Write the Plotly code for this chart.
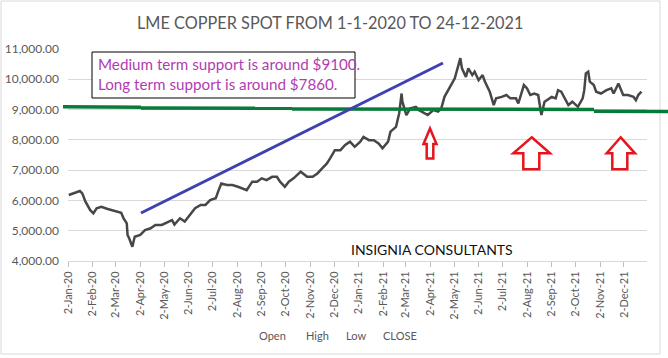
import plotly.graph_objects as go

# ---- data ----
dates = [
    "2020-01-03", "2020-01-10", "2020-01-17", "2020-01-20", "2020-01-24", "2020-01-30",
    "2020-02-03", "2020-02-07", "2020-02-13", "2020-02-21", "2020-02-28",
    "2020-03-05", "2020-03-09", "2020-03-12", "2020-03-16", "2020-03-17", "2020-03-19", "2020-03-23", "2020-03-26",
    "2020-04-02", "2020-04-08", "2020-04-15", "2020-04-21", "2020-04-29",
    "2020-05-08", "2020-05-12", "2020-05-15", "2020-05-22", "2020-05-28",
    "2020-06-04", "2020-06-10", "2020-06-17", "2020-06-23", "2020-06-29",
    "2020-07-06", "2020-07-09", "2020-07-13", "2020-07-20", "2020-07-27",
    "2020-08-03", "2020-08-07", "2020-08-14", "2020-08-21", "2020-08-27",
    "2020-09-02", "2020-09-08", "2020-09-15", "2020-09-21", "2020-09-25",
    "2020-10-01", "2020-10-06", "2020-10-12", "2020-10-21", "2020-10-29",
    "2020-11-05", "2020-11-11", "2020-11-17", "2020-11-23", "2020-11-27",
    "2020-12-03", "2020-12-10", "2020-12-16", "2020-12-22", "2020-12-28",
    "2021-01-04", "2021-01-08", "2021-01-15", "2021-01-21", "2021-01-27",
    "2021-02-01", "2021-02-08", "2021-02-11", "2021-02-18", "2021-02-22", "2021-02-24", "2021-02-25", "2021-02-26",
    "2021-03-03", "2021-03-08", "2021-03-15", "2021-03-19", "2021-03-25", "2021-03-30",
    "2021-04-06", "2021-04-12", "2021-04-16", "2021-04-20", "2021-04-27",
    "2021-05-03", "2021-05-10", "2021-05-12", "2021-05-17", "2021-05-20", "2021-05-25", "2021-05-28",
    "2021-06-02", "2021-06-07", "2021-06-10", "2021-06-16", "2021-06-21", "2021-06-24",
    "2021-07-01", "2021-07-07", "2021-07-12", "2021-07-19", "2021-07-22", "2021-07-26", "2021-07-29",
    "2021-08-02", "2021-08-06", "2021-08-11", "2021-08-16", "2021-08-18", "2021-08-20", "2021-08-24", "2021-08-31",
    "2021-09-02", "2021-09-07", "2021-09-10", "2021-09-14", "2021-09-20", "2021-09-23", "2021-09-28",
    "2021-10-01", "2021-10-05", "2021-10-11", "2021-10-13", "2021-10-15", "2021-10-18", "2021-10-20", "2021-10-25", "2021-10-28",
    "2021-11-03", "2021-11-10", "2021-11-16", "2021-11-19", "2021-11-25",
    "2021-12-01", "2021-12-07", "2021-12-14", "2021-12-17", "2021-12-20", "2021-12-24",
]
close = [
    6178, 6234, 6310, 6234, 5960, 5680,
    5574, 5740, 5790, 5716, 5660,
    5630, 5594, 5410, 5244, 4858, 4750, 4470, 4800,
    4860, 5020, 5080, 5190, 5190,
    5300, 5350, 5200, 5410, 5300,
    5520, 5740, 5850, 5850, 6010,
    6070, 6290, 6560, 6510, 6510,
    6450, 6400, 6340, 6620, 6620,
    6730, 6670, 6780, 6780, 6620,
    6450, 6620, 6730, 6950, 6780,
    6780, 6890, 7060, 7220, 7390,
    7660, 7660, 7830, 7940, 7770,
    7940, 8100, 7990, 7990, 7880,
    7720, 7940, 8270, 8430, 8880, 9310, 9530, 9260,
    8820, 9040, 9090, 8980, 8880, 8820,
    8980, 8930, 9040, 9420, 9750,
    10030, 10700, 10360, 10080, 10360, 10140, 10250,
    9970, 10140, 9920, 9590, 9150, 9370,
    9420, 9480, 9370, 9370, 9200, 9530, 9810,
    9700, 9480, 9530, 9480, 9150, 8820, 9260, 9370,
    9420, 9370, 9640, 9590, 9310, 9150, 9260,
    9200, 9090, 9370, 9640, 10190, 10250, 9920, 9810, 9590,
    9530, 9640, 9700, 9530, 9860,
    9480, 9480, 9420, 9310, 9480, 9590,
]
tick_dates = [f"{y}-{m:02d}-02" for y in (2020, 2021) for m in range(1, 13)]
y_ticks = [4000, 5000, 6000, 7000, 8000, 9000, 10000, 11000]
legend_names = ["Open", "High", "Low", "CLOSE"]

W, H = 668, 358
L, R, T, B = 68, 21, 49, 97
PW, PH = W - L - R, H - T - B


def px(x):
    return (x - L) / PW


def py(y):
    return (H - B - y) / PH


GRAY = "#595959"
FONT = "Lato"

fig = go.Figure()
fig.add_trace(go.Scatter(
    x=dates, y=close, mode="lines", name="CLOSE",
    line=dict(color="#474747", width=2.5), showlegend=False,
))

shapes = []
# chart area border
shapes.append(dict(type="rect", xref="paper", yref="paper",
                   x0=px(1), x1=px(660), y0=py(1), y1=py(354),
                   line=dict(color="#d9d9d9", width=1), layer="below"))
# green support line (drawn segments)
green_pts = [((63, 106.8), (141, 107.3)), ((141, 108), (292, 108.3)),
             ((292, 109), (594, 109.4)), ((594, 111.2), (668, 111.4))]
for (a, b) in green_pts:
    shapes.append(dict(type="line", xref="paper", yref="paper",
                       x0=px(a[0]), y0=py(a[1]), x1=px(b[0]), y1=py(b[1]),
                       line=dict(color="#0a7a3a", width=3.5)))
# blue trend line
shapes.append(dict(type="line", xref="paper", yref="paper",
                   x0=px(141), y0=py(213), x1=px(443), y1=py(63),
                   line=dict(color="#4040b4", width=3)))
# text box
shapes.append(dict(type="rect", xref="paper", yref="paper",
                   x0=px(92), x1=px(355), y0=py(52), y1=py(98),
                   line=dict(color="black", width=1), fillcolor="white"))


def arrow(tx, ty, hl, hr, hb, sl, sr, yb):
    pts = [(tx, ty), (hr, hb), (sr, hb), (sr, yb), (sl, yb), (sl, hb), (hl, hb)]
    p = "M " + " L ".join(f"{px(a):.5f},{py(b):.5f}" for a, b in pts) + " Z"
    return dict(type="path", xref="paper", yref="paper", path=p,
                line=dict(color="#e8141c", width=2.5), fillcolor="white")


shapes.append(arrow(430, 128.5, 423.5, 436.5, 144, 426.7, 433.3, 158.5))
shapes.append(arrow(531.7, 137.3, 513.3, 550, 153.3, 523.3, 539.3, 169.3))
shapes.append(arrow(620.7, 137.3, 606.7, 635, 153.3, 612.3, 627.3, 169.3))

annotations = [
    dict(text="LME COPPER SPOT FROM 1-1-2020 TO 24-12-2021", xref="paper", yref="paper",
         x=px(330), y=py(22), showarrow=False, xanchor="center", yanchor="middle",
         font=dict(family=FONT, size=16.3, color=GRAY)),
    dict(text="Medium term support is around $9100.<br>Long term support is around $7860.",
         xref="paper", yref="paper", x=px(96), y=py(73.5), showarrow=False,
         xanchor="left", yanchor="middle", align="left",
         font=dict(family=FONT, size=15.2, color="#b03cb4")),
    dict(text="INSIGNIA CONSULTANTS", xref="paper", yref="paper",
         x=px(432), y=py(249), showarrow=False, xanchor="center", yanchor="middle",
         font=dict(family=FONT, size=14, color="#111111")),
]
legend_x = [272, 317, 356, 400]
for name, lx in zip(legend_names, legend_x):
    annotations.append(dict(text=name, xref="paper", yref="paper", x=px(lx), y=py(335),
                            showarrow=False, xanchor="center", yanchor="middle",
                            font=dict(family=FONT, size=11, color=GRAY)))

fig.update_layout(
    width=W, height=H, margin=dict(l=L, r=R, t=T, b=B, autoexpand=False),
    paper_bgcolor="white", plot_bgcolor="white",
    showlegend=False, shapes=shapes, annotations=annotations,
    xaxis=dict(type="date", range=["2020-01-02", "2021-12-31"], automargin=False,
               tickvals=tick_dates, tickformat="%-d-%b-%y", tickangle=-90,
               ticks="outside", ticklen=5, tickcolor="#bfbfbf",
               showline=True, linecolor="#d9d9d9", showgrid=False, zeroline=False,
               tickfont=dict(family=FONT, size=11, color=GRAY)),
    yaxis=dict(range=[4000, 11000], tickvals=y_ticks, tickformat=",.2f", automargin=False,
               showgrid=True, gridcolor="#d9d9d9", gridwidth=1, zeroline=False,
               showline=False, ticks="", ticklabelstandoff=8,
               tickfont=dict(family=FONT, size=12, color=GRAY)),
)

fig.write_html("out.html", config={"displayModeBar": False},
               post_script="document.body.style.margin='0';document.body.style.overflow='hidden';")
